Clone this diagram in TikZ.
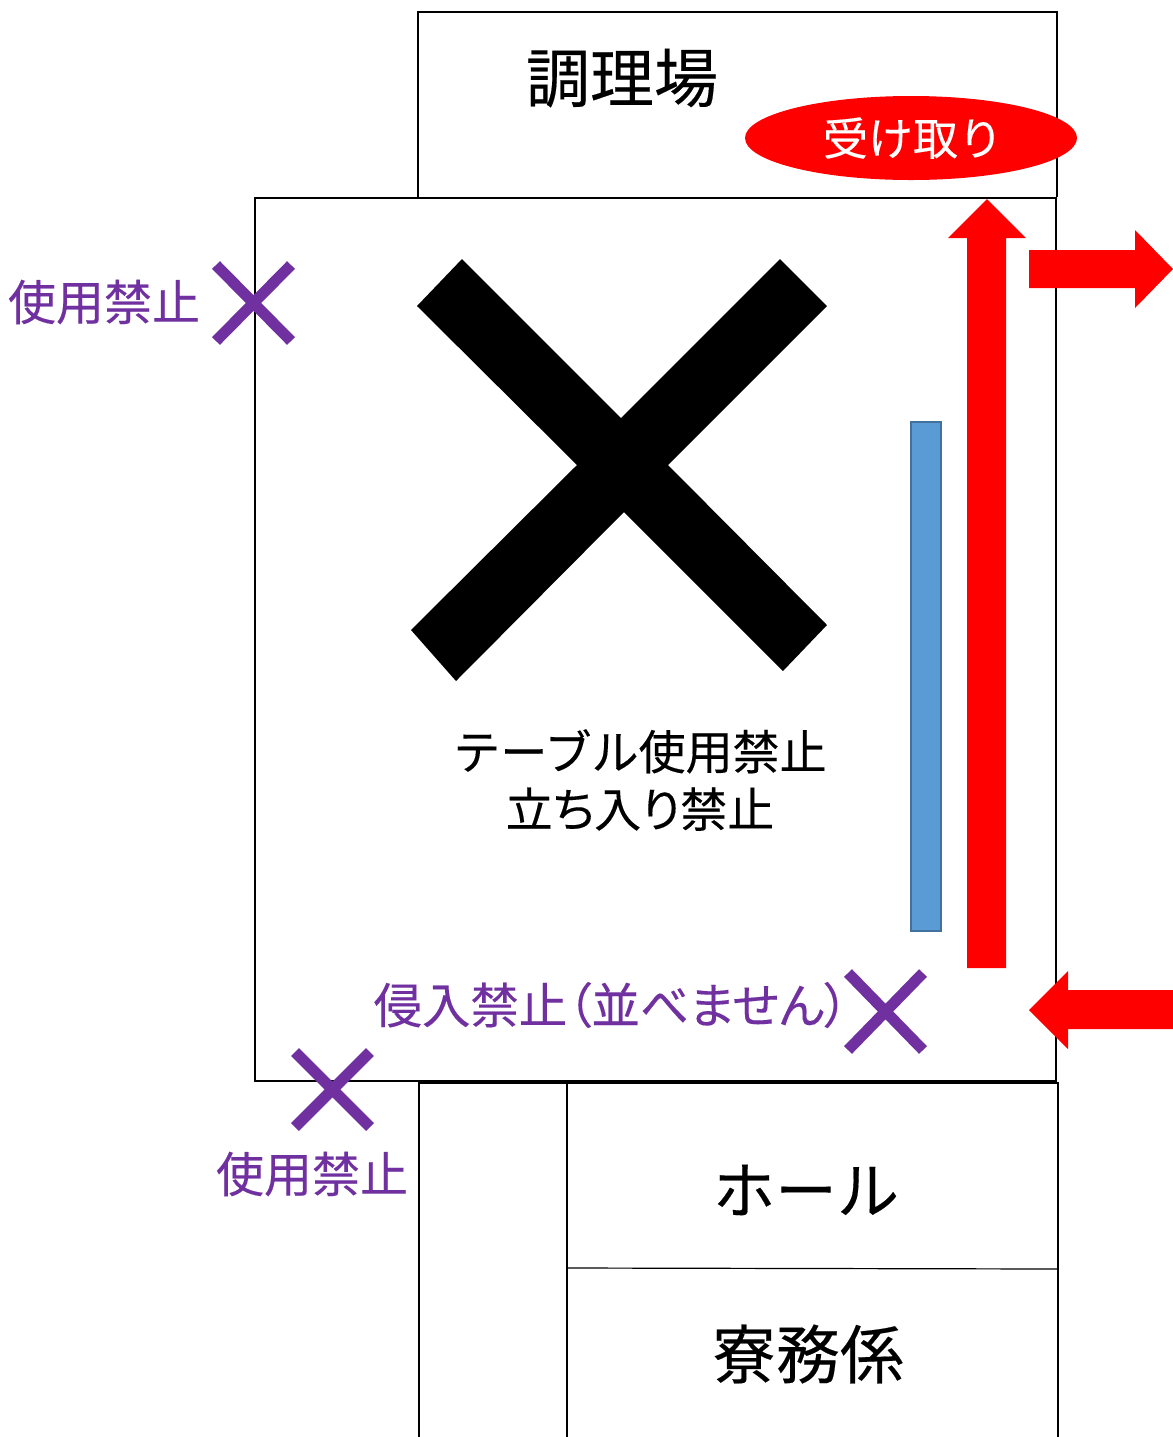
\documentclass[tikz,border=0pt]{standalone}
\usetikzlibrary{shapes.geometric}
\usepackage{fontspec}
\setmainfont[FakeBold=0.25]{Noto Sans CJK JP}
\newfontfamily\paltfont[FakeBold=0.25,RawFeature=+palt]{Noto Sans CJK JP}
\definecolor{purp}{HTML}{7030A0}
\definecolor{bluebar}{HTML}{5B9BD5}
\definecolor{bluebd}{HTML}{41719C}
\newcommand{\fs}[1]{\fontsize{#1}{#1}\selectfont}
\tikzset{
  room/.style={draw=black,line width=1pt},
  thin room/.style={draw=black,line width=0.6pt},
  bigarrow/.style={fill=red,draw=none},
  purplecross/.style={draw=purp,line width=5.5pt},
  blacklabel/.style={text=black,inner sep=0pt,align=center},
  purplelabel/.style={text=purp,inner sep=0pt},
}
\begin{document}
\begin{tikzpicture}[x=0.5pt,y=-0.5pt]
\useasboundingbox (0,0) rectangle (1173,1437);
% rooms
\draw[room] (418,197) -- (418,12) -- (1057,12) -- (1057,197);
\draw[room] (255,198) rectangle (1056,1081);
\draw[room] (419,1437) -- (419,1082.5) -- (1058,1082.5) -- (1058,1437);
\draw[thin room] (567,1082) -- (567,1437);
\draw[thin room] (567,1268) -- (1058,1269);
% pickup ellipse
\node[ellipse,fill=red,draw=none,minimum width=166pt,minimum height=42pt,inner sep=0pt,text=white] (pickup) at (911,138) {};
\node[inner sep=0pt,text=white] (pickuplabel) at (913,138) {\fs{22.5}受け取り};
% big black cross
\fill[black] (462,259) -- (621,418) -- (780,259) -- (827,306) -- (668,465) -- (827,625) -- (783,671) -- (624,512) -- (456,681) -- (411,630) -- (577,465) -- (417,306) -- cycle;
% blue bar
\draw[draw=bluebd,fill=bluebar,line width=1pt] (910.5,422) rectangle (941,931);
% arrows
\fill[bigarrow] (967,968) -- (967,238) -- (948,238) -- (987,199) -- (1026,238) -- (1006,238) -- (1006,968) -- cycle;
\fill[bigarrow] (1029,250) -- (1135,250) -- (1135,230) -- (1173,269) -- (1135,308) -- (1135,288) -- (1029,288) -- cycle;
\fill[bigarrow] (1173,990) -- (1068,990) -- (1068,971) -- (1029,1010) -- (1068,1049) -- (1068,1029) -- (1173,1029) -- cycle;
% purple crosses
\draw[purplecross] (216,265) -- (291,341) (291,265) -- (216,341);
\draw[purplecross] (848,973) -- (923,1050) (923,973) -- (848,1050);
\draw[purplecross] (295,1052) -- (370,1127) (370,1052) -- (295,1127);
% labels
\node[blacklabel] (kitchen) at (622,78) {\fs{32}調理場};
\node[blacklabel] (notable) at (640,780) {\fs{23.5}テーブル使用禁止\\[6pt]\fs{23.5}\paltfont 立ち入り禁止};
\node[blacklabel] (hall) at (806,1190) {\fs{31}ホール};
\node[blacklabel] (dorm) at (808,1354) {\fs{32}寮務係};
\node[purplelabel] (ban1) at (104,302) {\fs{24}使用禁止};
\node[purplelabel] (ban2) at (312,1174) {\fs{24}使用禁止};
\node[purplelabel] (noentry) at (611,1005) {\fs{24.2}\paltfont 侵入禁止（並べません）};
\end{tikzpicture}
\end{document}
